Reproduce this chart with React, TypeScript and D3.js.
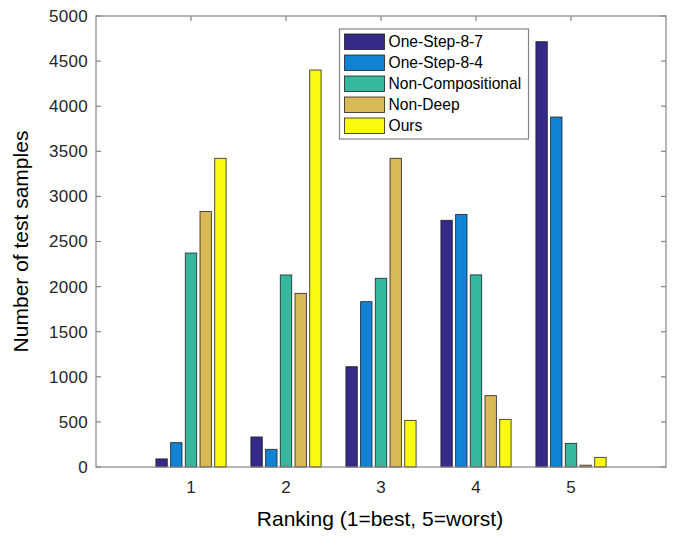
import React from "react";
import * as d3 from "d3";

const categories = [1, 2, 3, 4, 5];
const seriesNames = ["One-Step-8-7", "One-Step-8-4", "Non-Compositional", "Non-Deep", "Ours"];
const oneStep87 = [90, 333, 1112, 2735, 4715];
const oneStep84 = [270, 196, 1833, 2800, 3880];
const nonCompositional = [2372, 2129, 2092, 2130, 262];
const nonDeep = [2832, 1925, 3422, 791, 20];
const ours = [3422, 4401, 517, 528, 107];
const seriesValues = [oneStep87, oneStep84, nonCompositional, nonDeep, ours];
const colors = ["#352A87", "#1283D4", "#35B89E", "#D8B955", "#F9FA10"];
const yTicks = [0, 500, 1000, 1500, 2000, 2500, 3000, 3500, 4000, 4500, 5000];

export default function App() {
  const W = 677, H = 542;
  const left = 96, right = 666, top = 16, bottom = 467;
  const x = d3.scaleLinear().domain([0, 6]).range([left, right]);
  const y = d3.scaleLinear().domain([0, 5000]).range([bottom, top]);
  const pitch = 14.7;
  const bw = 11.4;
  const font = "Liberation Sans, Arial, Helvetica, sans-serif";
  const axisColor = "#858585";
  const textColor = "#262626";
  return (
    <svg width={W} height={H} style={{ position: "absolute", left: 0, top: 0 }} fontFamily={font}>
      <rect x={0} y={0} width={W} height={H} fill="#fff" />
      {seriesValues.map((vals, s) =>
        vals.map((v, i) => {
          const cx = x(categories[i]) + (s - 2) * pitch;
          return (
            <rect key={`${s}-${i}`} x={cx - bw / 2} y={y(v)} width={bw} height={y(0) - y(v)}
              fill={colors[s]} stroke="#1a1a1a" strokeWidth={0.9} strokeOpacity={0.85} />
          );
        })
      )}
      <rect x={left} y={top} width={right - left} height={bottom - top} fill="none" stroke={axisColor} strokeWidth={1.2} />
      {yTicks.map((t) => (
        <g key={t}>
          <line x1={left} x2={left + 5} y1={y(t)} y2={y(t)} stroke={axisColor} strokeWidth={1.2} />
          <line x1={right} x2={right - 5} y1={y(t)} y2={y(t)} stroke={axisColor} strokeWidth={1.2} />
          <text x={left - 8} y={y(t)} dy="0.35em" textAnchor="end" fontSize={17} letterSpacing={0.3} fill={textColor}>{t}</text>
        </g>
      ))}
      {categories.map((c) => (
        <g key={c}>
          <line x1={x(c)} x2={x(c)} y1={bottom} y2={bottom - 5} stroke={axisColor} strokeWidth={1.2} />
          <line x1={x(c)} x2={x(c)} y1={top} y2={top + 5} stroke={axisColor} strokeWidth={1.2} />
          <text x={x(c)} y={487} dy="0.35em" textAnchor="middle" fontSize={17} fill={textColor}>{c}</text>
        </g>
      ))}
      <text x={380} y={526} textAnchor="middle" fontSize={21} fill="#000">Ranking (1=best, 5=worst)</text>
      <text transform="translate(28,241.5) rotate(-90)" textAnchor="middle" fontSize={21} fill="#000">Number of test samples</text>
      <g>
        <rect x={339.5} y={29} width={189} height={110} fill="#fff" stroke={axisColor} strokeWidth={1.2} />
        {seriesNames.map((n, s) => (
          <g key={n}>
            <rect x={344.5} y={34 + s * 21} width={40} height={15.5} fill={colors[s]} stroke="#1a1a1a" strokeWidth={0.9} strokeOpacity={0.85} />
            <text x={388.5} y={42 + s * 21} dy="0.35em" fontSize={15.6} fill="#000">{n}</text>
          </g>
        ))}
      </g>
    </svg>
  );
}
